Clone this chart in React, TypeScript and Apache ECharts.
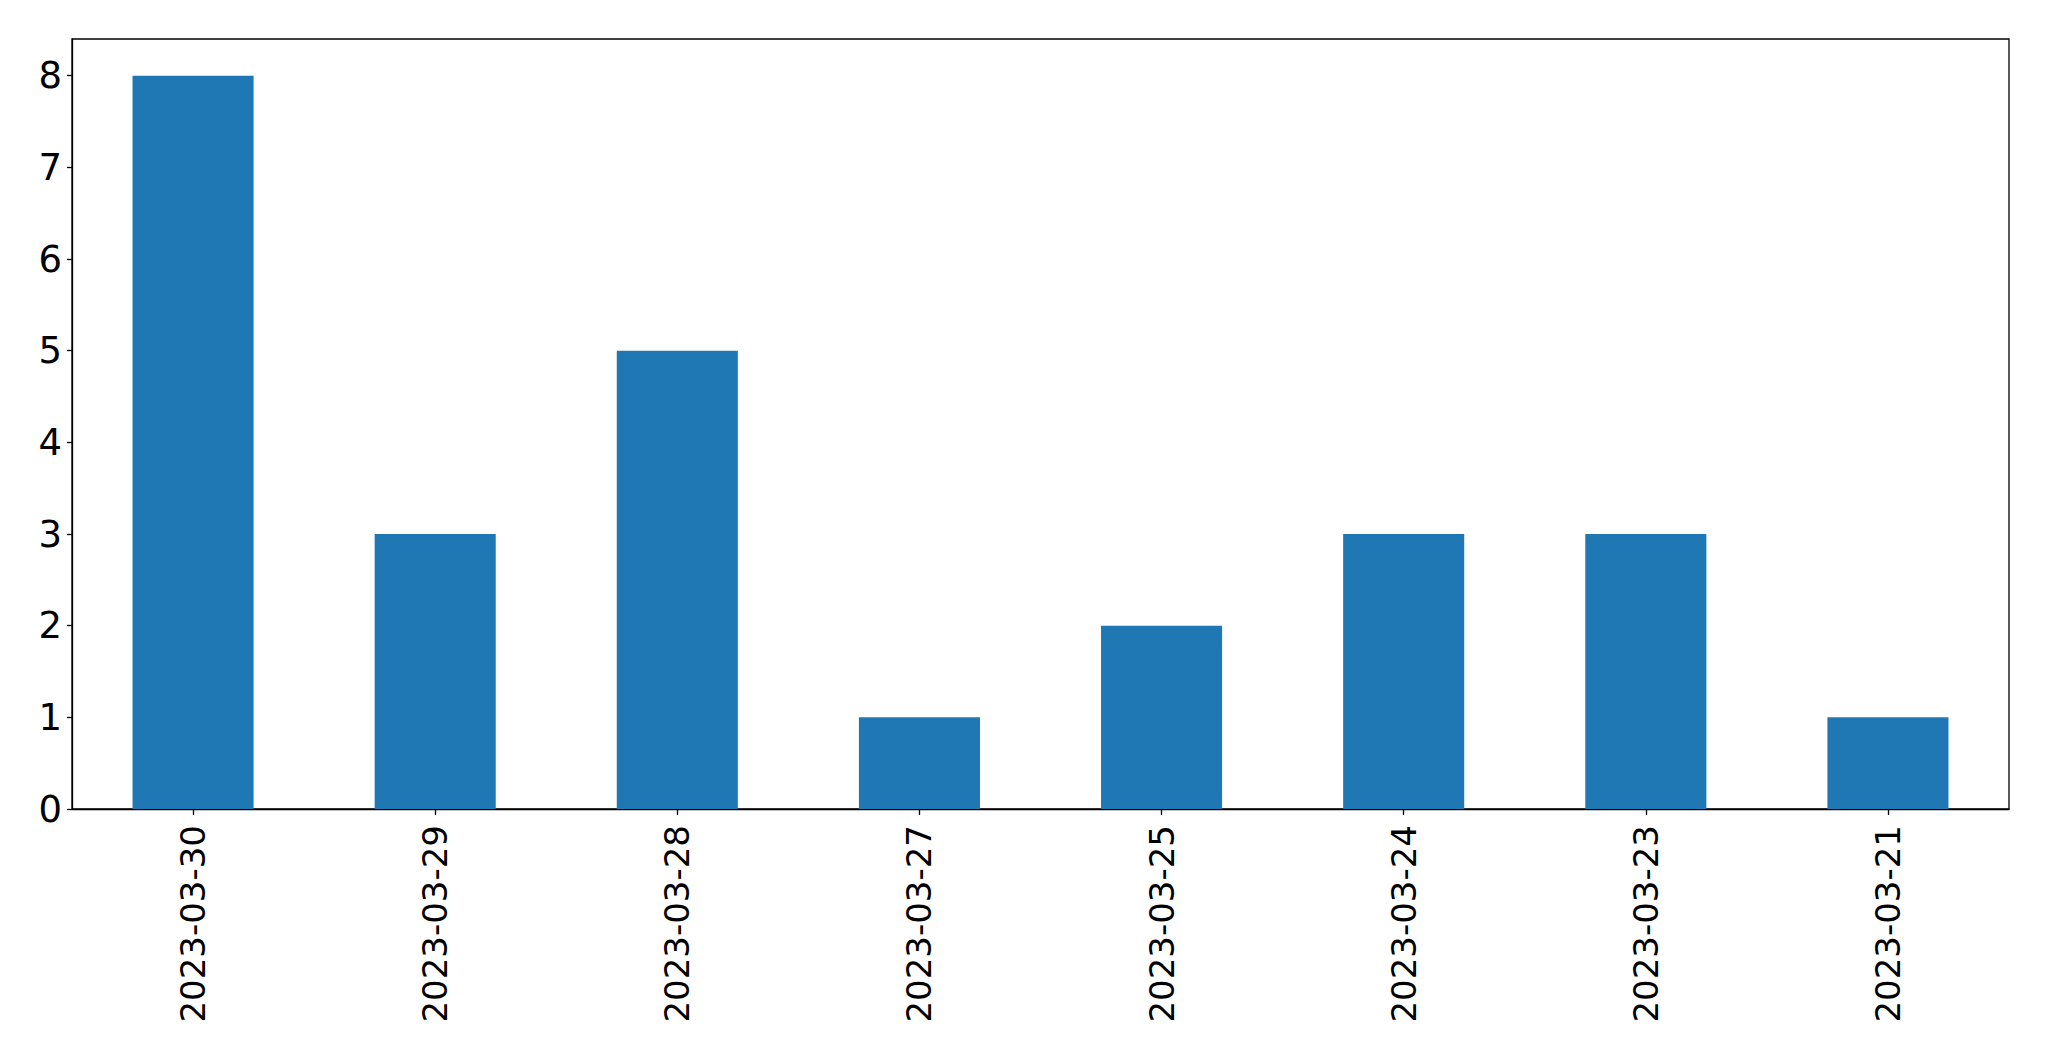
import React, { useEffect, useRef } from "react";
import * as echarts from "echarts";

const categories = ["2023-03-30", "2023-03-29", "2023-03-28", "2023-03-27", "2023-03-25", "2023-03-24", "2023-03-23", "2023-03-21"];
const counts = [8, 3, 5, 1, 2, 3, 3, 1];
const yTicks = [0, 1, 2, 3, 4, 5, 6, 7, 8];

export default function App() {
  const ref = useRef<HTMLDivElement>(null);
  useEffect(() => {
    if (!ref.current) return;
    const chart = echarts.init(ref.current, null, { renderer: "svg" });
    const font = "DejaVu Sans";
    chart.setOption({
      animation: false,
      backgroundColor: "#ffffff",
      grid: {
        left: 72,
        top: 39,
        right: 40,
        bottom: 252,
        containLabel: false,
        show: true,
        borderColor: "#000000",
        borderWidth: 1.3,
      },
      xAxis: {
        type: "category",
        data: categories,
        axisLine: { show: true, lineStyle: { color: "#000", width: 1.3 } },
        axisTick: { show: true, alignWithLabel: true, length: 6, lineStyle: { color: "#000", width: 1.3 } },
        axisLabel: {
          rotate: 90,
          margin: 16,
          fontSize: 34,
          fontFamily: font,
          color: "#000",
          interval: 0,
        },
        splitLine: { show: false },
      },
      yAxis: {
        type: "value",
        min: 0,
        max: 8.4,
        interval: 1,
        axisLine: { show: true, lineStyle: { color: "#000", width: 1.3 } },
        axisTick: { show: true, length: 5, customValues: yTicks, lineStyle: { color: "#000", width: 1.3 } },
        axisLabel: {
          margin: 10,
          fontSize: 37,
          fontFamily: font,
          color: "#000",
          customValues: yTicks,
        },
        splitLine: { show: false },
      },
      series: [
        {
          type: "bar",
          data: counts,
          barWidth: "50%",
          itemStyle: { color: "#1f77b4" },
        },
      ],
    });
    return () => chart.dispose();
  }, []);
  return <div ref={ref} style={{ position: "fixed", left: 0, top: 0, width: 2049, height: 1061 }} />;
}
